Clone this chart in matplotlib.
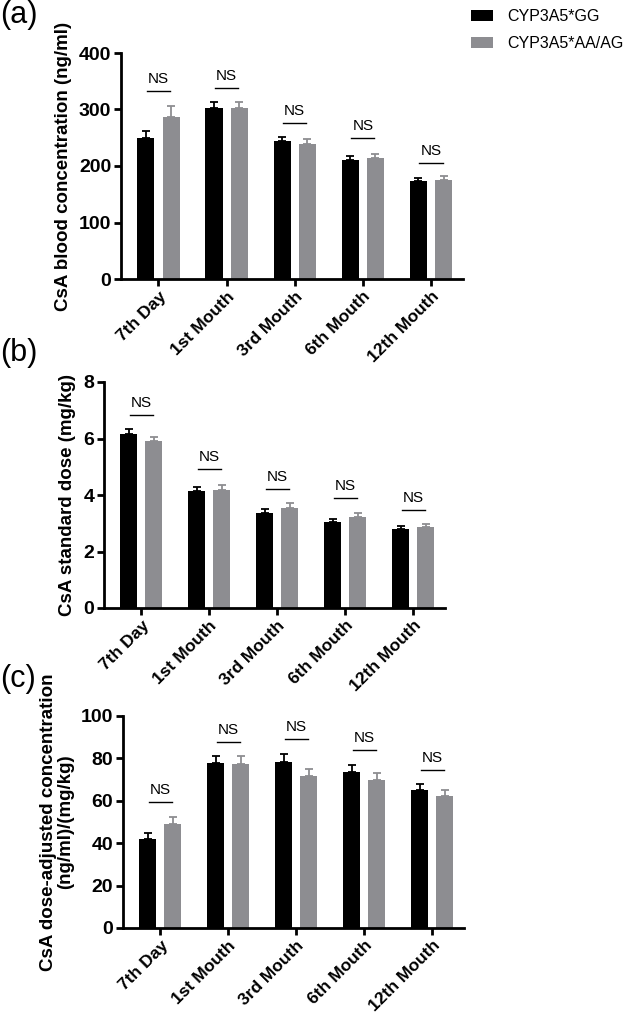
import matplotlib
matplotlib.use("Agg")
import matplotlib.pyplot as plt
import numpy as np
from matplotlib.patches import Patch
from matplotlib import font_manager

names = {f.name for f in font_manager.fontManager.ttflist}
NARROW = 'Liberation Sans Narrow' if 'Liberation Sans Narrow' in names else 'Liberation Sans'
plt.rcParams['font.family'] = [NARROW, 'DejaVu Sans']

categories = ["7th Day", "1st Mouth", "3rd Mouth", "6th Mouth", "12th Mouth"]
series_names = ["CYP3A5*GG", "CYP3A5*AA/AG"]

conc_gg = [249, 303, 244, 211, 173]
conc_gg_err = [13, 11, 8, 7, 6]
conc_aa = [286, 302, 239, 214, 175]
conc_aa_err = [20, 12, 9, 8, 7]
conc_ns = [332, 338, 276, 249, 206]

dose_gg = [6.15, 4.13, 3.35, 3.03, 2.79]
dose_gg_err = [0.19, 0.17, 0.14, 0.11, 0.11]
dose_aa = [5.91, 4.16, 3.55, 3.22, 2.86]
dose_aa_err = [0.14, 0.20, 0.16, 0.14, 0.10]
dose_ns = [6.84, 4.92, 4.23, 3.91, 3.47]

adj_gg = [41.9, 77.6, 78.1, 73.7, 65.3]
adj_gg_err = [2.7, 3.6, 4.0, 3.4, 2.6]
adj_aa = [49.0, 77.2, 71.6, 69.7, 62.4]
adj_aa_err = [3.5, 3.8, 3.4, 3.4, 2.5]
adj_ns = [59.6, 87.8, 89.1, 84.0, 74.6]

panels = [
    dict(tag="(a)", gg=conc_gg, gge=conc_gg_err, aa=conc_aa, aae=conc_aa_err, ns=conc_ns,
         ylim=400, ticks=[0, 100, 200, 300, 400], ylabel="CsA blood concentration (ng/ml)",
         pos=[121/640, 1-279/1024, 342/640, 226/1024], tagpos=(0.0, 1.0)),
    dict(tag="(b)", gg=dose_gg, gge=dose_gg_err, aa=dose_aa, aae=dose_aa_err, ns=dose_ns,
         ylim=8, ticks=[0, 2, 4, 6, 8], ylabel="CsA standard dose (mg/kg)",
         pos=[104/640, 1-608/1024, 341/640, 226/1024], tagpos=(0.0, 1-338/1024)),
    dict(tag="(c)", gg=adj_gg, gge=adj_gg_err, aa=adj_aa, aae=adj_aa_err, ns=adj_ns,
         ylim=100, ticks=[0, 20, 40, 60, 80, 100],
         ylabel="CsA dose-adjusted concentration\n(ng/ml)/(mg/kg)",
         pos=[123/640, 1-928/1024, 341/640, 212/1024], tagpos=(0.0, 1-664/1024)),
]

BLACK = "#000000"
GRAY = "#8d8d91"

fig = plt.figure(figsize=(6.4, 10.24), dpi=100)
x = np.arange(len(categories))
w = 0.25
off = 0.185

for p in panels:
    ax = fig.add_axes(p["pos"])
    ax.bar(x - off, p["gg"], w, color=BLACK, zorder=2)
    ax.bar(x + off, p["aa"], w, color=GRAY, zorder=2)
    ax.errorbar(x - off, p["gg"], yerr=[np.zeros(5), p["gge"]], fmt="none",
                ecolor=BLACK, elinewidth=1.3, capsize=3.2, capthick=1.3, zorder=3)
    ax.errorbar(x + off, p["aa"], yerr=[np.zeros(5), p["aae"]], fmt="none",
                ecolor=GRAY, elinewidth=1.3, capsize=3.2, capthick=1.3, zorder=3)
    for xi, yv in zip(x, p["ns"]):
        ax.plot([xi - 0.17, xi + 0.17], [yv, yv], color=BLACK, lw=1.0)
        ax.text(xi, yv + p["ylim"] * 0.022, "NS", ha="center", va="bottom", fontsize=11)
    ax.set_xlim(-0.55, 4.47)
    ax.set_ylim(0, p["ylim"])
    ax.set_yticks(p["ticks"])
    ax.set_xticks(x)
    ax.set_xticklabels(categories, rotation=45, ha="right", rotation_mode="anchor",
                       fontweight="bold", fontsize=12.5)
    for lab in ax.get_yticklabels():
        lab.set_fontweight("bold")
        lab.set_fontsize(14)
    ax.spines["top"].set_visible(False)
    ax.spines["right"].set_visible(False)
    ax.spines["left"].set_linewidth(2.0)
    ax.spines["bottom"].set_linewidth(2.0)
    ax.tick_params(axis="both", width=2.0, length=5, direction="out", pad=2)
    ax.set_ylabel(p["ylabel"], fontweight="bold", fontsize=13.5,
                  family=['Liberation Sans', 'DejaVu Sans'], labelpad=5, linespacing=1.0)
    fig.text(p["tagpos"][0], p["tagpos"][1], p["tag"], fontsize=22, va="top", ha="left")

handles = [Patch(facecolor=BLACK, label=series_names[0]),
           Patch(facecolor=GRAY, label=series_names[1])]
fig.legend(handles=handles, loc="upper left", bbox_to_anchor=(471/640, 1 - 9/1024),
           frameon=False, handlelength=1.35, handleheight=0.75,
           handletextpad=0.95, labelspacing=0.75, borderpad=0, borderaxespad=0,
           prop={'family': ['Liberation Sans', 'DejaVu Sans'], 'size': 11.5})

fig.savefig("out.png", dpi=100)
